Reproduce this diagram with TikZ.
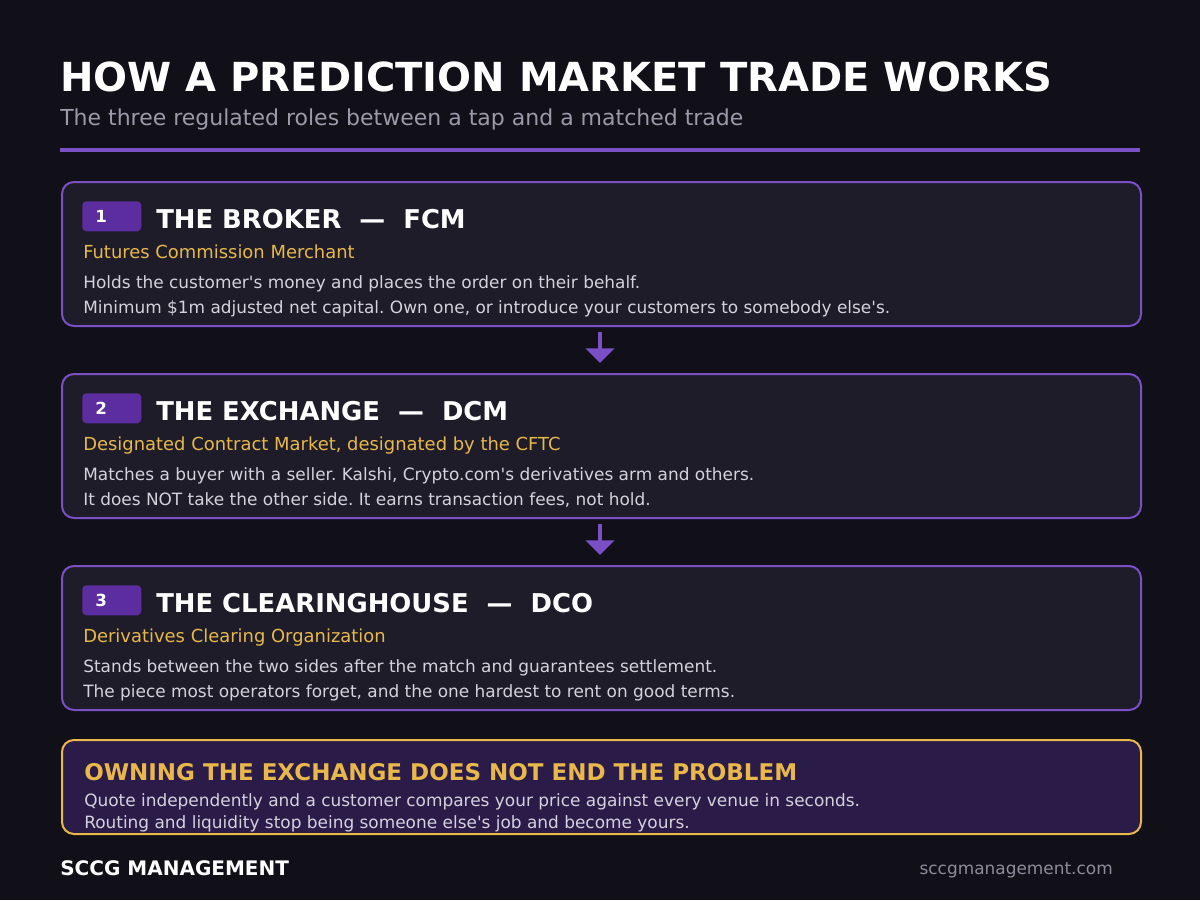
\documentclass[tikz,border=0pt]{standalone}
\usepackage{fontspec}
\setmainfont{DejaVu Sans}
\frenchspacing
\definecolor{bg}{HTML}{111019}
\definecolor{boxfill}{HTML}{1D1C28}
\definecolor{pborder}{HTML}{7B4FC6}
\definecolor{badge}{HTML}{5B2D9E}
\definecolor{gold}{HTML}{E8B84A}
\definecolor{bodytxt}{HTML}{D4D2DC}
\definecolor{subtxt}{HTML}{9C9AA8}
\definecolor{warnfill}{HTML}{2B1B49}
\definecolor{urltxt}{HTML}{8E8C99}
\usetikzlibrary{arrows.meta}
\newcommand{\aps}{\textquotesingle}
\tikzset{
  card/.style={draw=pborder, line width=1.5, fill=boxfill, rounded corners=9},
  warncard/.style={draw=gold, line width=1.5, fill=warnfill, rounded corners=9},
  badgebox/.style={fill=badge, rounded corners=3},
  badgenum/.style={anchor=base west, inner sep=0, text=white, font=\bfseries\fontsize{12.5}{15}\selectfont},
  head/.style={anchor=base west, inner sep=0, text=white, font=\bfseries\fontsize{19.4}{24}\selectfont},
  goldsub/.style={anchor=base west, inner sep=0, text=gold, font=\fontsize{13.45}{16}\selectfont},
  bodyline/.style={anchor=base west, inner sep=0, text=bodytxt, font=\fontsize{12.7}{15}\selectfont},
  flow/.style={draw=pborder, line width=3, -{Triangle[length=11, width=21]}},
}
\begin{document}
\begin{tikzpicture}[x=0.75pt, y=-0.75pt]
\fill[bg] (0,0) rectangle (1200,900);
\useasboundingbox (0,0) rectangle (1200,900);
% title
\node[anchor=base west, inner sep=0, text=white, font=\bfseries\fontsize{30}{36}\selectfont] (title) at (60,91) {HOW A PREDICTION MARKET TRADE WORKS};
\node[anchor=base west, inner sep=0, text=subtxt, font=\fontsize{16.5}{20}\selectfont] (subtitle) at (60,125) {The three regulated roles between a tap and a matched trade};
\draw[pborder, line width=2.4] (60,150) -- (1140,150);

% card 1
\node[card, minimum width=1079*0.75pt, minimum height=144*0.75pt, anchor=north west, inner sep=0] (c1) at (61,181) {};
\node[badgebox, minimum width=59*0.75pt, minimum height=30*0.75pt, anchor=north west, inner sep=0] (b1) at (82,201) {};
\node[badgenum] (n1) at (95,222.5) {1};
\node[head] (h1) at (156,228) {THE BROKER \ — \ FCM};
\node[goldsub] (g1) at (83,258.5) {Futures Commission Merchant};
\node[bodyline] (l11) at (83,288.5) {Holds the customer\aps s money and places the order on their behalf.};
\node[bodyline] (l12) at (83,313.5) {Minimum \$1m adjusted net capital. Own one, or introduce your customers to somebody else\aps s.};

% card 2
\node[card, minimum width=1079*0.75pt, minimum height=144*0.75pt, anchor=north west, inner sep=0] (c2) at (61,373) {};
\node[badgebox, minimum width=59*0.75pt, minimum height=30*0.75pt, anchor=north west, inner sep=0] (b2) at (82,393) {};
\node[badgenum] (n2) at (95,414.5) {2};
\node[head] (h2) at (156,420) {THE EXCHANGE \ — \ DCM};
\node[goldsub] (g2) at (83,450.5) {Designated Contract Market, designated by the CFTC};
\node[bodyline] (l21) at (83,480.5) {Matches a buyer with a seller. Kalshi, Crypto.com\aps s derivatives arm and others.};
\node[bodyline] (l22) at (83,505.5) {It does NOT take the other side. It earns transaction fees, not hold.};

% card 3
\node[card, minimum width=1079*0.75pt, minimum height=144*0.75pt, anchor=north west, inner sep=0] (c3) at (61,565) {};
\node[badgebox, minimum width=59*0.75pt, minimum height=30*0.75pt, anchor=north west, inner sep=0] (b3) at (82,585) {};
\node[badgenum] (n3) at (95,606.5) {3};
\node[head] (h3) at (156,612) {THE CLEARINGHOUSE \ — \ DCO};
\node[goldsub] (g3) at (83,642.5) {Derivatives Clearing Organization};
\node[bodyline] (l31) at (83,672.5) {Stands between the two sides after the match and guarantees settlement.};
\node[bodyline] (l32) at (83,697.5) {The piece most operators forget, and the one hardest to rent on good terms.};

% arrows
\coordinate (a1s) at (600,332);
\coordinate (a1e) at (600,363);
\coordinate (a2s) at (600,524);
\coordinate (a2e) at (600,555);
\draw[flow] (a1s) -- (a1e);
\draw[flow] (a2s) -- (a2e);

% warning card
\node[warncard, minimum width=1079*0.75pt, minimum height=94*0.75pt, anchor=north west, inner sep=0] (w) at (61,739) {};
\node[anchor=base west, inner sep=0, text=gold, font=\bfseries\fontsize{17.25}{20}\selectfont] (wh) at (84,780) {OWNING THE EXCHANGE DOES NOT END THE PROBLEM};
\node[bodyline] (w1) at (84,806.5) {Quote independently and a customer compares your price against every venue in seconds.};
\node[bodyline] (w2) at (84,828.5) {Routing and liquidity stop being someone else\aps s job and become yours.};

% footer
\node[anchor=base west, inner sep=0, text=white, font=\bfseries\fontsize{15}{18}\selectfont] (brand) at (60,875) {SCCG MANAGEMENT};
\node[anchor=base east, inner sep=0, text=urltxt, font=\fontsize{12.7}{15}\selectfont] (url) at (1113,874) {sccgmanagement.com};
\end{tikzpicture}
\end{document}
